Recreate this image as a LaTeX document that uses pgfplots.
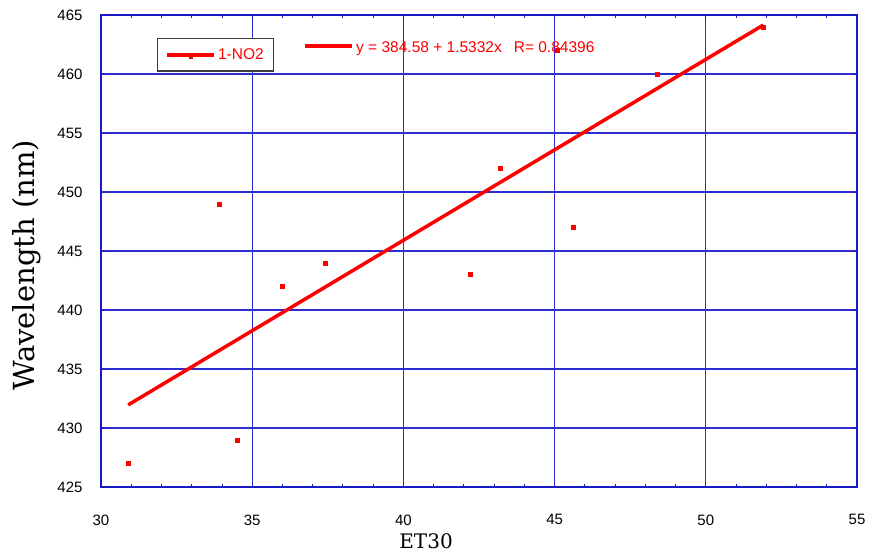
\documentclass[border=0pt]{standalone}
\usepackage{pgfplots}
\pgfplotsset{compat=1.18}
\usepackage{fontspec}
\setmainfont{Liberation Sans}
\newfontfamily\labelfont{DejaVu Serif}
\definecolor{gridblue}{RGB}{45,45,210}
\definecolor{frameblue}{RGB}{25,25,200}
\definecolor{legframe}{RGB}{60,60,60}

\begin{document}
\begin{tikzpicture}
\path[use as bounding box] (-101pt,-68pt) rectangle (769pt,487pt);
\begin{axis}[
  at={(0pt,0pt)}, anchor=south west,
  scale only axis, width=756pt, height=472pt,
  xmin=30, xmax=55, ymin=425, ymax=465,
  xtick={30,35,...,55}, ytick={425,430,...,465},
  minor x tick num=4,
  grid=major,
  major grid style={gridblue, line width=1.2pt},
  axis line style={frameblue, line width=1.4pt},
  tick style={frameblue, line width=0.9pt},
  major tick length=4pt, minor tick length=3pt,
  tick align=inside,
  /pgf/number format/assume math mode=true,
  ticklabel style={font=\fontsize{15}{17}\selectfont},
  xticklabel style={yshift=-24pt},
  yticklabel style={xshift=-15pt},
  xlabel={ET30},
  xlabel style={font=\labelfont\fontsize{20}{22}\selectfont, at={(axis description cs:0.43,0)}, anchor=north, inner sep=0pt, yshift=-46pt},
  ylabel={Wavelength (nm)},
  ylabel style={font=\labelfont\fontsize{29}{31}\selectfont, at={(axis description cs:0,0.47)}, anchor=south, inner sep=0pt, yshift=60pt},
  legend style={at={(axis description cs:0.074,0.951)}, anchor=north west, draw=legframe, line width=1.3pt, fill=white, font=\fontsize{15.5}{17}\selectfont, text=red, inner xsep=8pt, inner ysep=8pt},
  legend cell align=left,
]
\addplot[red, line width=3.5pt, forget plot] coordinates {(30.9,431.96) (51.9,464.15)};
\addplot[only marks, mark=square*, mark size=2pt, red,
  legend image code/.code={\draw[red, line width=3.5pt] (0pt,0pt) -- (47pt,0pt); \fill[red] (22pt,-3pt) rectangle (25pt,0pt);}]
  coordinates {
  (30.9,427) (33.9,449) (34.5,429) (36.0,442) (37.4,444) (42.2,443)
  (43.2,452) (45.1,462) (45.6,447) (48.4,460) (51.9,464)
  };
\addlegendentry{1-NO2}
\end{axis}
\draw[red, line width=3.5pt] (204pt,441pt) -- (251pt,441pt);
\node[anchor=west, inner sep=0pt, text=red, font=\fontsize{15.5}{17}\selectfont] at (255pt,438.5pt) {y = 384.58 + 1.5332x\hspace{12pt}R= 0.84396};
\end{tikzpicture}
\end{document}
